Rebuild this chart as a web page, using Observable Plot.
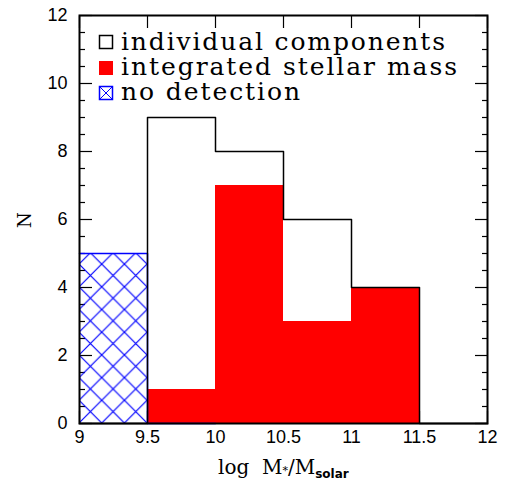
<!DOCTYPE html>
<html>
<head>
<meta charset="utf-8">
<script src="https://cdn.jsdelivr.net/npm/d3@7"></script>
<script src="https://cdn.jsdelivr.net/npm/@observablehq/plot@0.6"></script>
<style>
  html, body { margin: 0; padding: 0; background: #fff; }
  #chart { position: relative; width: 514px; height: 489px; }
</style>
</head>
<body>
<div id="chart"></div>
<script>
// ---- data ----
const binLo = [9, 9.5, 10, 10.5, 11, 11.5];
const binHi = [9.5, 10, 10.5, 11, 11.5, 12];
const individualComponents = [0, 9, 8, 6, 4, 0];
const integratedStellarMass = [0, 1, 7, 3, 4, 0];
const noDetection = [5, 0, 0, 0, 0, 0];

const xTicks = [9, 9.5, 10, 10.5, 11, 11.5, 12];
const xTickLabels = ["9", "9.5", "10", "10.5", "11", "11.5", "12"];
const yMajorTicks = [0, 2, 4, 6, 8, 10, 12];
const yMinorTicks = [0.5, 1, 1.5, 2.5, 3, 3.5, 4.5, 5, 5.5, 6.5, 7, 7.5, 8.5, 9, 9.5, 10.5, 11, 11.5];
const legendLabels = ["individual components", "integrated stellar mass", "no detection"];

// ---- tables built from the arrays ----
const bins = binLo.map((lo, i) => ({
  lo, hi: binHi[i],
  ind: individualComponents[i],
  integ: integratedStellarMass[i],
  nodet: noDetection[i]
}));
const stepInd = bins.map(b => ({x: b.lo, y: b.ind}))
  .concat([{x: binHi[binHi.length - 1], y: individualComponents[individualComponents.length - 1]}]);
const stepNoDet = bins.filter(b => b.lo < 10).map(b => ({x: b.lo, y: b.nodet}))
  .concat([{x: 10, y: 0}]);

const W = 514, H = 489;
const plot = Plot.plot({
  width: W, height: H,
  marginLeft: 79, marginRight: 27, marginTop: 15, marginBottom: 66,
  style: {fontFamily: "'Liberation Sans', Arial, sans-serif", fontSize: "18px", color: "black", background: "white"},
  x: {domain: [9, 12], label: null},
  y: {domain: [0, 12], label: null},
  marks: [
    Plot.axisX({anchor: "bottom", ticks: xTicks, tickSize: 12, dy: -12, tickFormat: () => "", label: null, strokeWidth: 1.2}),
    Plot.axisX({anchor: "top", ticks: xTicks, tickSize: 12, dy: 12, tickFormat: () => "", label: null, strokeWidth: 1.2}),
    Plot.axisY({anchor: "left", ticks: yMajorTicks, tickSize: 13, dx: 13, tickFormat: () => "", label: null, strokeWidth: 1.2}),
    Plot.axisY({anchor: "left", ticks: yMinorTicks, tickSize: 6, dx: 6, tickFormat: () => "", label: null, strokeWidth: 1.2}),
    Plot.axisY({anchor: "right", ticks: yMajorTicks, tickSize: 13, dx: -13, tickFormat: () => "", label: null, strokeWidth: 1.2}),
    Plot.axisY({anchor: "right", ticks: yMinorTicks, tickSize: 6, dx: -6, tickFormat: () => "", label: null, strokeWidth: 1.2}),
    Plot.axisX({anchor: "bottom", ticks: xTicks, tickSize: 0, tickPadding: 7, tickFormat: (d, i) => xTickLabels[i], label: null, style: "letter-spacing:0.8px"}),
    Plot.axisY({anchor: "left", ticks: yMajorTicks, tickSize: 0, tickPadding: 12, tickFormat: d => String(d), label: null}),
    Plot.rectY(bins.filter(b => b.integ > 0), {x1: "lo", x2: "hi", y: "integ", fill: "#ff0000"}),
    Plot.rectY(bins.filter(b => b.nodet > 0), {x1: "lo", x2: "hi", y: "nodet", fill: "url(#hatch)"}),
    Plot.line(stepNoDet, {x: "x", y: "y", curve: "step-after", stroke: "#0000ff", strokeWidth: 1.5}),
    Plot.line(stepInd, {x: "x", y: "y", curve: "step-after", stroke: "black", strokeWidth: 1.5}),
    Plot.frame({stroke: "black", strokeWidth: 2})
  ]
});

document.getElementById("chart").appendChild(plot);

const svg = d3.select(plot);
const xs = plot.scale("x"), ys = plot.scale("y");

// hatch pattern
const s = 22.7;
const defs = svg.insert("defs", ":first-child");
const pat = defs.append("pattern")
  .attr("id", "hatch")
  .attr("patternUnits", "userSpaceOnUse")
  .attr("width", s).attr("height", s)
  .attr("x", xs.apply(9)).attr("y", ys.apply(0));
pat.append("path").attr("d", `M0,0L${s},${s}M${s},0L0,${s}M${-s/2},${s/2}L${s/2},${3*s/2}M${s/2},${-s/2}L${3*s/2},${s/2}M${s/2},${-s/2}L${-s/2},${s/2}M${3*s/2},${s/2}L${s/2},${3*s/2}`)
  .attr("stroke", "#0000ff").attr("stroke-width", 1.2).attr("fill", "none");

// legend
const lg = svg.append("g").attr("font-family", "'DejaVu Serif', serif").attr("font-size", 25)
  .attr("text-anchor", "start");
const rowBase = [50, 75, 100];
const rowLen = [324, 336, 179];
legendLabels.forEach((t, i) => {
  lg.append("text").attr("x", 121).attr("y", rowBase[i])
    .attr("text-anchor", "start")
    .attr("textLength", rowLen[i]).attr("lengthAdjust", "spacing")
    .attr("fill", "black").text(t);
});
lg.append("rect").attr("x", 99.5).attr("y", 35.5).attr("width", 13).attr("height", 13)
  .attr("fill", "white").attr("stroke", "black").attr("stroke-width", 1.5);
lg.append("rect").attr("x", 99).attr("y", 61).attr("width", 14).attr("height", 14)
  .attr("fill", "#ff0000");
lg.append("rect").attr("x", 99.5).attr("y", 86.5).attr("width", 13).attr("height", 13)
  .attr("fill", "white").attr("stroke", "#0000ff").attr("stroke-width", 1.5);
lg.append("path").attr("d", "M99.5,86.5L112.5,99.5M112.5,86.5L99.5,99.5")
  .attr("stroke", "#0000ff").attr("stroke-width", 1);

// axis titles
const xl = svg.append("text").attr("x", 218).attr("y", 474).attr("text-anchor", "start")
  .attr("font-family", "'DejaVu Serif', serif").attr("font-size", 20).attr("fill", "black");
xl.append("tspan").text("log  M");
xl.append("tspan").attr("font-size", 11).text("*");
xl.append("tspan").text("/M");
xl.append("tspan").attr("font-family", "'DejaVu Sans', sans-serif").attr("font-weight", "bold")
  .attr("font-size", 12).attr("dy", 4).text("solar");

svg.append("text").attr("transform", "translate(31,220) rotate(-90)")
  .attr("text-anchor", "middle")
  .attr("font-family", "'DejaVu Serif', serif").attr("font-size", 18).attr("fill", "black").text("N");
</script>
</body>
</html>
